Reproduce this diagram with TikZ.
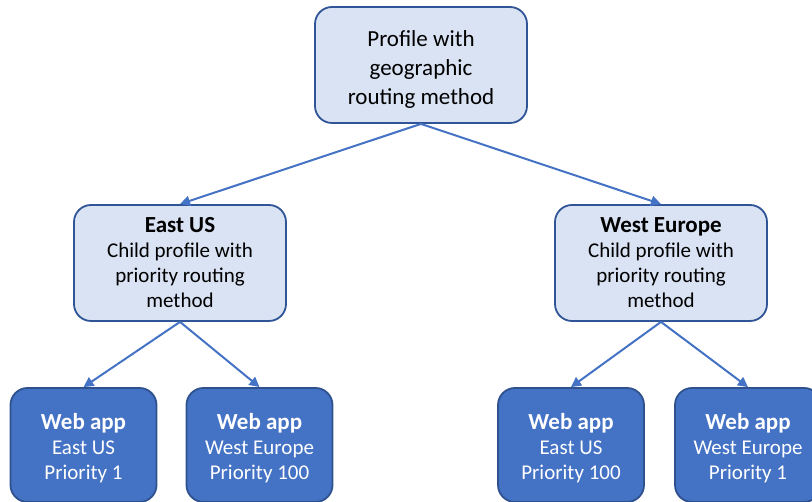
\documentclass[tikz,border=0pt]{standalone}
\usepackage{fontspec}
\setmainfont{Carlito}
\usetikzlibrary{arrows.meta}
\definecolor{ProfileFill}{RGB}{218,227,243}
\definecolor{ProfileEdge}{RGB}{47,85,151}
\definecolor{AppFill}{RGB}{68,114,196}
\definecolor{AppEdge}{RGB}{47,82,143}
\definecolor{LinkBlue}{RGB}{68,114,196}

\begin{document}
\begin{tikzpicture}[x=1pt, y=1pt,
  profilebox/.style={draw=ProfileEdge, fill=ProfileFill, line width=1.8pt, rounded corners=17pt,
    minimum width=212pt, minimum height=116pt, align=center, inner sep=0pt,
    font=\fontsize{21}{25}\selectfont},
  appbox/.style={draw=AppEdge, fill=AppFill, line width=1.8pt, rounded corners=17pt,
    minimum width=146pt, minimum height=114pt, align=center, inner sep=0pt, text=white,
    font=\fontsize{21}{25}\selectfont},
  link/.style={draw=LinkBlue, line width=2pt, -{Triangle[length=10pt,width=10pt]}}]
  \clip (0,0) rectangle (812,502);
  \useasboundingbox (0,0) rectangle (812,502);

  % Parent profile
  \node[profilebox, font=\fontsize{23}{29}\selectfont] (profile) at (421,437)
    {\rule{0pt}{25pt}Profile with\\geographic\\routing method};

  % Child profiles
  \node[profilebox] (eastus) at (180,239)
    {{\fontsize{23}{27}\selectfont\bfseries East US}\\Child profile with\\priority routing\\method};
  \node[profilebox] (westeu) at (661,239)
    {{\fontsize{23}{27}\selectfont\bfseries West Europe}\\Child profile with\\priority routing\\method};

  % Endpoints
  \node[appbox] (app1) at (83.5,57) {\rule{0pt}{23pt}{\fontsize{23}{27}\selectfont\bfseries Web app}\\East US\\Priority 1};
  \node[appbox] (app2) at (259.5,57) {\rule{0pt}{23pt}{\fontsize{23}{27}\selectfont\bfseries Web app}\\West Europe\\Priority 100};
  \node[appbox] (app3) at (571,57) {\rule{0pt}{23pt}{\fontsize{23}{27}\selectfont\bfseries Web app}\\East US\\Priority 100};
  \node[appbox] (app4) at (748,57) {\rule{0pt}{23pt}{\fontsize{23}{27}\selectfont\bfseries Web app}\\West Europe\\Priority 1};

  % Links
  \draw[link] (profile.south) -- (eastus.north);
  \draw[link] (profile.south) -- (westeu.north);
  \draw[link] (eastus.south) -- (app1.north);
  \draw[link] (eastus.south) -- (app2.north);
  \draw[link] (westeu.south) -- (app3.north);
  \draw[link] (westeu.south) -- (app4.north);
\end{tikzpicture}
\end{document}
